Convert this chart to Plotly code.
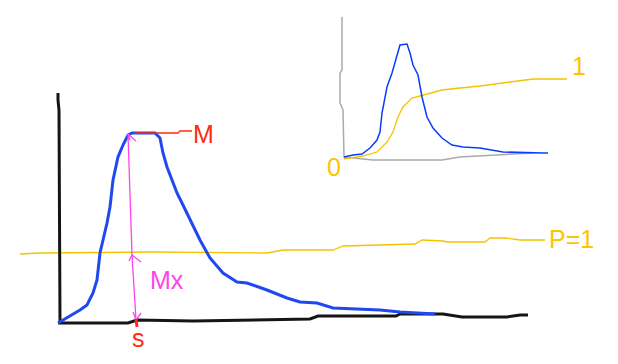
import plotly.graph_objects as go

# Sketch coordinates (canvas units: x to the right, y downward)
axis_v_x = [58, 58, 59, 60, 60]
axis_v_y = [93, 100, 110, 250, 323]
base_x = [58, 128, 137, 193, 310, 318, 396, 400, 443, 462, 507, 520, 528]
base_y = [323, 323, 320, 321, 319, 316, 316, 314, 314, 317, 317, 315, 315]

peak_x = [58, 67, 80, 87, 93, 97, 100, 107, 110, 113, 118, 123, 128, 132, 155, 160, 163, 167,
          177, 182, 190, 200, 210, 223, 237, 247, 267, 287, 300, 317, 333, 353, 380, 400, 417, 435]
peak_y = [323, 318, 310, 305, 293, 280, 253, 223, 207, 180, 157, 145, 135, 133, 133, 138, 153, 167,
          193, 203, 220, 240, 258, 273, 282, 283, 290, 298, 302, 303, 308, 309, 310, 312, 313, 314]

cum_x = [20, 40, 153, 267, 283, 300, 333, 343, 378, 415, 422, 443, 447, 485, 490, 505, 520, 545]
cum_y = [254, 253, 252, 253, 250, 250, 250, 246, 245, 244, 240, 241, 242, 242, 238, 238, 240, 240]

arrow_x = [128, 132, 136]
arrow_y = [134, 255, 320]
head_top_x = [136, 128, 130]
head_top_y = [141, 134, 140]
head_mid_x = [129, 132, 141]
head_mid_y = [261, 255, 262]
head_bot_x = [133, 136, 141]
head_bot_y = [312, 320, 313]
m_line_x = [135, 178, 180, 192]
m_line_y = [133, 133, 131, 131]
s_tick_x = [136, 137]
s_tick_y = [319, 327]

inset_axis_x = [342, 342, 340, 340, 343, 344, 373, 442, 460, 533]
inset_axis_y = [17, 70, 73, 103, 110, 157, 160, 160, 157, 153]
inset_peak_x = [344, 353, 362, 370, 377, 380, 382, 387, 392, 397, 400, 407, 410, 413, 418, 422,
                427, 433, 442, 452, 463, 480, 503, 543, 548]
inset_peak_y = [157, 155, 154, 148, 140, 132, 113, 87, 73, 55, 45, 44, 53, 65, 75, 97,
                117, 128, 138, 145, 147, 148, 152, 153, 153]
inset_cum_x = [344, 363, 377, 387, 393, 398, 403, 412, 420, 433, 442, 460, 480, 510, 533, 567]
inset_cum_y = [159, 156, 152, 142, 132, 117, 107, 98, 96, 92, 90, 88, 86, 82, 79, 79]

labels = ["M", "Mx", "s", "P=1", "1", "0"]
label_x = [203, 167, 138, 571, 579, 334]
label_y = [134, 280, 338, 239, 66, 167]
label_colors = ["#ff2a10", "#ff44ee", "#ff2a10", "#ffc400", "#ffc400", "#ffc400"]

fig = go.Figure()

def line(x, y, color, width):
    fig.add_trace(go.Scatter(x=x, y=y, mode="lines", line=dict(color=color, width=width),
                             hoverinfo="skip", showlegend=False))

line(inset_axis_x, inset_axis_y, "#aaaaaa", 1.5)
line(cum_x, cum_y, "#f5c400", 1.3)
line(axis_v_x, axis_v_y, "#151515", 3)
line(base_x, base_y, "#151515", 3)
line(peak_x, peak_y, "#1f48f0", 3)
line(m_line_x, m_line_y, "#ff2a10", 1.3)
line(arrow_x, arrow_y, "#ff44ee", 1.3)
line(head_top_x, head_top_y, "#ff44ee", 1.3)
line(head_mid_x, head_mid_y, "#ff44ee", 1.3)
line(head_bot_x, head_bot_y, "#ff44ee", 1.3)
line(s_tick_x, s_tick_y, "#ff2a10", 3)
line(inset_cum_x, inset_cum_y, "#f5c400", 1.3)
line(inset_peak_x, inset_peak_y, "#0a3cff", 1.5)

for t, x, y, c in zip(labels, label_x, label_y, label_colors):
    fig.add_annotation(x=x, y=y, text=t, showarrow=False, xanchor="center", yanchor="middle",
                       font=dict(family="Liberation Sans, Arial", size=25, color=c))

fig.update_layout(
    width=618, height=364, margin=dict(l=0, r=0, t=0, b=0),
    paper_bgcolor="white", plot_bgcolor="white",
    xaxis=dict(range=[0, 618], visible=False, fixedrange=True),
    yaxis=dict(range=[364, 0], visible=False, fixedrange=True),
)
fig.write_html("out.html", config={"displayModeBar": False})
